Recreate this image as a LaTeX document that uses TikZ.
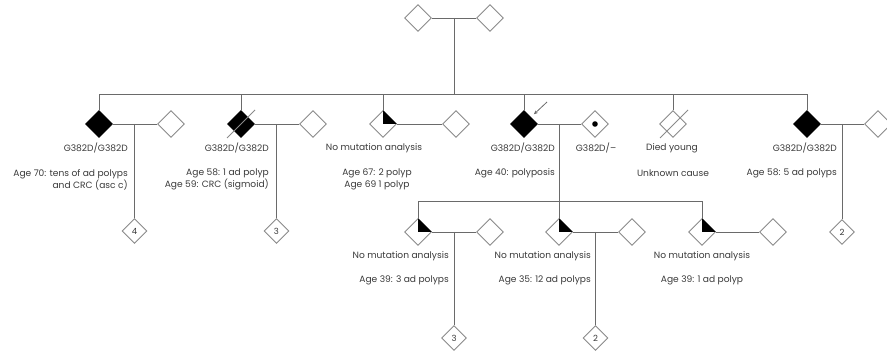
\documentclass[tikz,border=0pt]{standalone}
\usepackage{fontspec}
\setmainfont{Poppins}
\usetikzlibrary{shapes.geometric,arrows.meta,calc}
\definecolor{linegray}{HTML}{6A6A6A}
\definecolor{edgegray}{HTML}{8A8A8A}
\definecolor{textgray}{HTML}{3A3A3A}
\begin{document}
\begin{tikzpicture}[x=1pt,y=-1pt,
  ind/.style={diamond,draw=edgegray,line width=0.9pt,minimum size=27pt,inner sep=0pt,fill=white},
  aff/.style={ind,fill=black,draw=black},
  num/.style={ind,minimum size=25pt,font=\fontsize{8.5}{9}\selectfont,text=textgray},
  rel/.style={draw=linegray,line width=0.9pt},
  slash/.style={draw=edgegray,line width=0.9pt},
  lab/.style={font=\fontsize{9.1}{12}\selectfont,text=textgray,inner sep=0pt},
  probarrow/.style={draw=linegray,line width=0.8pt,-{Stealth[length=4pt,width=3.5pt]}}
]
\useasboundingbox (0,0) rectangle (887,355);

% generation I
\node[ind] (f0) at (418,18) {};
\node[ind] (m0) at (490,18) {};
\coordinate (d0) at (454,18);
\coordinate (sib2) at (454,94);

% generation II
\node[aff] (s1) at (99,124) {};
\node[ind] (w1) at (171,124) {};
\node[aff] (s2) at (241,124) {};
\node[ind] (w2) at (313,124) {};
\node[ind] (s3) at (383,124) {};
\node[ind] (w3) at (456,124) {};
\node[aff] (p)  at (524,124) {};
\node[ind] (wp) at (595,124) {};
\node[ind] (s5) at (673,124) {};
\node[aff] (s6) at (807,124) {};
\node[ind] (w6) at (878,124) {};

\coordinate (d1) at (134.5,124);
\coordinate (d2) at (276.5,124);
\coordinate (dp) at (559,124);
\coordinate (d6) at (842,124);
\coordinate (sib3) at (559,201);

% generation III
\node[ind] (a)  at (418,232) {};
\node[ind] (wa) at (490,232) {};
\node[ind] (b)  at (559,232) {};
\node[ind] (wb) at (632,232) {};
\node[ind] (c)  at (702,232) {};
\node[ind] (wc) at (773,232) {};
\coordinate (da) at (454,232);
\coordinate (db) at (595.5,232);

% sibship counts
\node[num] (n1) at (134.5,231) {4};
\node[num] (n2) at (276.5,231) {3};
\node[num] (n6) at (842,232) {2};
\node[num] (na) at (454,338) {3};
\node[num] (nb) at (595.5,338) {2};

% partial fills (upper-right quarter)
\foreach \q in {s3,a,b,c}{
  \fill[black] (\q.north) -- (\q.center) -- (\q.east) -- cycle;
}
% carrier dot
\fill[black] (wp.center) circle (2.8pt);
% deceased slashes
\draw[slash] ($(s2)+(-14,14)$) -- ($(s2)+(14,-14)$);
\draw[slash] ($(s5)+(-13,14)$) -- ($(s5)+(15,-14)$);

% marriage lines
\draw[rel] (f0.east) -- (m0.west);
\draw[rel] (s1.east) -- (w1.west);
\draw[rel] (s2.east) -- (w2.west);
\draw[rel] (s3.east) -- (w3.west);
\draw[rel] (p.east) -- (wp.west);
\draw[rel] (s6.east) -- (w6.west);
\draw[rel] (a.east) -- (wa.west);
\draw[rel] (b.east) -- (wb.west);
\draw[rel] (c.east) -- (wc.west);

% descent and sibship lines
\draw[rel] (d0) -- (sib2);
\draw[rel] (s1.north) -- (s1.north |- sib2) -- (s6.north |- sib2) -- (s6.north);
\draw[rel] (s2.north) -- (s2.north |- sib2);
\draw[rel] (s3.north) -- (s3.north |- sib2);
\draw[rel] (p.north) -- (p.north |- sib2);
\draw[rel] (s5.north) -- (s5.north |- sib2);
\draw[rel] (d1) -- (n1.north);
\draw[rel] (d2) -- (n2.north);
\draw[rel] (d6) -- (n6.north);
\draw[rel] (dp) -- (sib3);
\draw[rel] (a.north) -- (a.north |- sib3) -- (c.north |- sib3) -- (c.north);
\draw[rel] (sib3) -- (b.north);
\draw[rel] (da) -- (na.north);
\draw[rel] (db) -- (nb.north);

% proband arrow
\coordinate (arrS) at (547,102);
\draw[probarrow, shorten >=4pt] (arrS) -- (p.north east);

% labels generation II
\node[lab,anchor=east] (l1a) at (128,148) {G382D/G382D};
\node[lab,anchor=east,align=right] (l1b) at (128,179.5) {Age 70: tens of ad polyps\\and CRC (asc c)};
\node[lab,anchor=east] (l2a) at (269,148) {G382D/G382D};
\node[lab,anchor=east,align=right] (l2b) at (269,179.5) {Age 58: 1 ad polyp\\Age 59: CRC (sigmoid)};
\node[lab] (l3a) at (374,148) {No mutation analysis};
\node[lab,align=center] (l3b) at (377,179.5) {Age 67: 2 polyp\\Age 69 1 polyp};
\node[lab,anchor=east] (lpa) at (555,148) {G382D/G382D};
\node[lab,anchor=east] (lpb) at (555,173) {Age 40: polyposis};
\node[lab] (lwp) at (596,148) {G382D/–};
\node[lab] (l5a) at (672,148) {Died young};
\node[lab] (l5b) at (673,173) {Unknown cause};
\node[lab,anchor=east] (l6a) at (837,148) {G382D/G382D};
\node[lab,anchor=east] (l6b) at (837,173) {Age 58: 5 ad polyps};

% labels generation III
\node[lab,anchor=east] (laa) at (449,256) {No mutation analysis};
\node[lab,anchor=east] (lab) at (449,280) {Age 39: 3 ad polyps};
\node[lab,anchor=east] (lba) at (591,256) {No mutation analysis};
\node[lab,anchor=east] (lbb) at (591,280) {Age 35: 12 ad polyps};
\node[lab] (lca) at (702,256) {No mutation analysis};
\node[lab] (lcb) at (702,280) {Age 39: 1 ad polyp};
\end{tikzpicture}
\end{document}
